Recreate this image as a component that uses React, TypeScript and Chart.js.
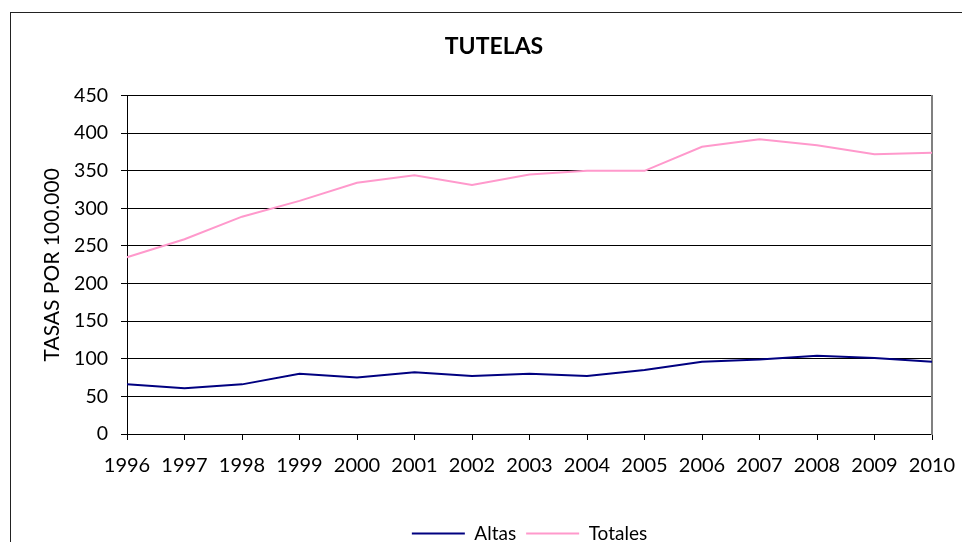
import React, { useEffect, useRef } from "react";
import { Chart, registerables } from "chart.js";

Chart.register(...registerables);

const years = ["1996", "1997", "1998", "1999", "2000", "2001", "2002", "2003", "2004", "2005", "2006", "2007", "2008", "2009", "2010"];
const altas = [66, 61, 66, 80, 75, 82, 77, 80, 77, 85, 96, 99, 104, 101, 96];
const totales = [235, 259, 289, 310, 334, 344, 331, 345, 350, 350, 382, 392, 384, 372, 374];
const seriesNames = ["Altas", "Totales"];
const chartTitle = "TUTELAS";
const yTitle = "TASAS POR 100.000";

export default function App() {
  const ref = useRef<HTMLCanvasElement | null>(null);
  useEffect(() => {
    if (!ref.current) return;
    Chart.defaults.font.family = "Lato, 'Open Sans', sans-serif";
    Chart.defaults.color = "#000";
    const chart = new Chart(ref.current, {
      type: "line",
      data: {
        labels: years,
        datasets: [
          { label: seriesNames[0], data: altas, borderColor: "#000080", backgroundColor: "#000080", borderWidth: 2, pointRadius: 0, tension: 0, yAxisID: "y" },
          { label: seriesNames[1], data: totales, borderColor: "#FF99CC", backgroundColor: "#FF99CC", borderWidth: 2, pointRadius: 0, tension: 0, yAxisID: "y" },
        ],
      },
      options: {
        responsive: false,
        animation: false,
        layout: { padding: 0 },
        plugins: {
          title: {
            display: true,
            text: chartTitle,
            font: { size: 23, weight: "bold" },
            color: "#000",
            padding: { top: 33, bottom: 35 },
          },
          legend: {
            position: "bottom",
            fullSize: false,
            labels: {
              font: { size: 19 },
              color: "#000",
              boxWidth: 53,
              boxHeight: 2,
              padding: 10,
              generateLabels: (c: any) =>
                Chart.defaults.plugins.legend.labels.generateLabels(c).map((l: any) => ({ ...l, lineWidth: 0, fillStyle: l.strokeStyle })),
            },
          },
          tooltip: { enabled: false },
        },
        scales: {
          x: {
            grid: { drawOnChartArea: false, tickLength: 6, tickColor: "#000" },
            border: { color: "#000", width: 1 },
            ticks: { font: { size: 20 }, color: "#000", padding: 14, maxRotation: 0, autoSkip: false },
            afterFit: (s: any) => { s.height = 80; },
          },
          y: {
            min: 0,
            max: 450,
            ticks: { stepSize: 50, font: { size: 19.5 }, color: "#000", padding: 13 },
            grid: { color: "#000", lineWidth: 1, tickLength: 6, tickColor: "#000" },
            border: { color: "#000", width: 1 },
            title: { display: true, text: yTitle, font: { size: 21 }, color: "#000", padding: { top: 40, bottom: 0 } },
            afterFit: (s: any) => { s.width = 127; },
          },
          y2: {
            position: "right",
            min: 0,
            max: 450,
            ticks: { display: false },
            grid: { drawOnChartArea: false, drawTicks: false },
            border: { color: "#808080", width: 2 },
            afterFit: (s: any) => { s.width = 56; },
          },
        },
      },
    });
    return () => chart.destroy();
  }, []);
  return (
    <div style={{ position: "fixed", left: 0, top: 0, width: 962, height: 542, overflow: "hidden", background: "#fff" }}>
      <div style={{ position: "absolute", left: 10, top: 12, width: 2000, height: 2000, border: "1px solid #222" }} />
      <canvas ref={ref} width={988} height={553} style={{ position: "absolute", left: 0, top: 0 }} />
    </div>
  );
}
